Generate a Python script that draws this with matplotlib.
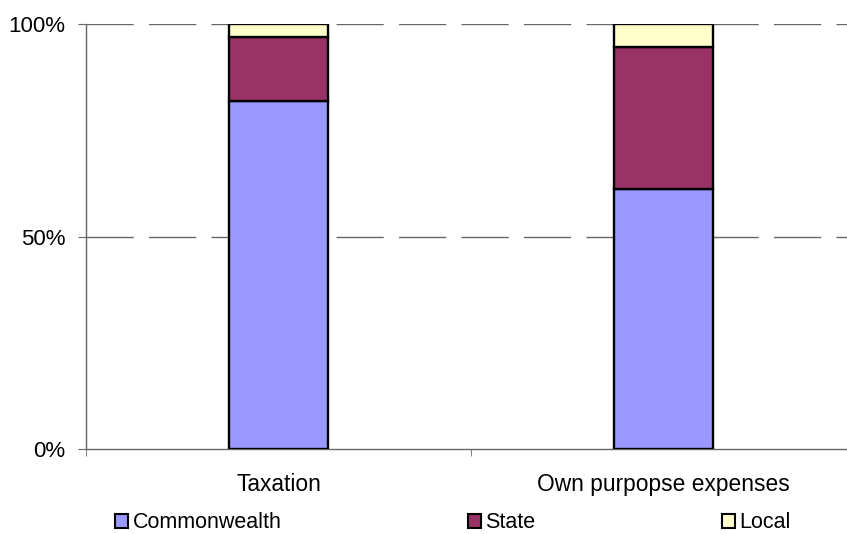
import matplotlib
matplotlib.use("Agg")
import matplotlib.pyplot as plt
import numpy as np

plt.rcParams['font.family'] = ['Liberation Sans', 'DejaVu Sans']

categories = ["Taxation", "Own purpopse expenses"]
series_names = ["Commonwealth", "State", "Local"]
commonwealth = [81.9, 61.2]
state = [15.0, 33.5]
local = [3.1, 5.3]
colors = ["#9999FF", "#993366", "#FFFFCC"]
yticks = [0, 50, 100]
ytick_labels = ["0%", "50%", "100%"]

W, H = 847, 534
fig = plt.figure(figsize=(W / 100, H / 100), dpi=100)
ax = fig.add_axes([86 / W, (H - 449) / H, 770 / W, 425 / H])

x = np.arange(len(categories))
bottom = np.zeros(len(categories))
for name, vals, col in zip(series_names, [commonwealth, state, local], colors):
    ax.bar(x, vals, width=0.255, bottom=bottom, color=col, edgecolor="black",
           linewidth=1.7, label=name, zorder=3)
    bottom += np.array(vals)

ax.set_xlim(-0.5, 1.5)
ax.set_ylim(0, 100)

# dashed horizontal gridlines
for yv in yticks[1:]:
    ax.axhline(yv, color="#666666", linewidth=1.0, dashes=(34, 11), zorder=1)

ax.set_yticks(yticks)
ax.set_yticklabels(ytick_labels, fontsize=16)
ax.set_xticks(x)
ax.set_xticklabels(categories, fontsize=16.4)
ax.tick_params(axis="x", length=0, pad=17)
ax.set_xticks([-0.5, 0.5, 1.5], minor=True)
ax.tick_params(axis="x", which="minor", length=5, color="#666666", direction="out")
ax.tick_params(axis="y", length=6, color="#666666", direction="out", pad=9)

for s in ["top", "right"]:
    ax.spines[s].set_visible(False)
for s in ["left", "bottom"]:
    ax.spines[s].set_color("#666666")
    ax.spines[s].set_linewidth(1.0)

handles, labels = ax.get_legend_handles_labels()
leg = fig.legend(handles, labels, loc="center left", bbox_to_anchor=(115 / W, 1 - 523 / H),
                 ncol=3, frameon=False, fontsize=15.5, handlelength=0.62, handleheight=0.62,
                 handletextpad=0.2, columnspacing=8.65, borderaxespad=0, borderpad=0)
for h in leg.legend_handles:
    h.set_linewidth(1.5)

fig.savefig("out.png", dpi=100)
